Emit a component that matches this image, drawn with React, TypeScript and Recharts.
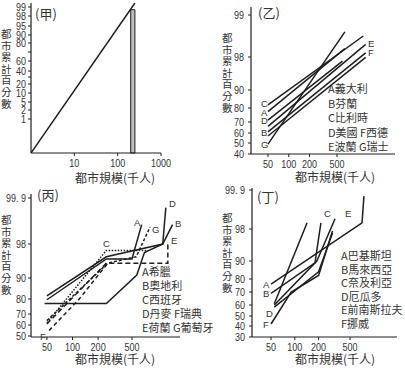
import { LineChart, Line, XAxis, YAxis, ReferenceArea } from "recharts";

const INK = "#1e1e1e";
const TEXT = "#333";
const NUM_FONT = "'Liberation Sans', Arial, sans-serif";
const CJK_FONT = "'Noto Sans CJK TC', 'Noto Sans CJK SC', sans-serif";

const Y_TITLE = "都市累計百分數";
const X_TITLE = "都市規模(千人)";
const SIZE_TICKS = [50, 100, 200, 500];

// 甲 — probability paper: percent -> grid units above the x axis
const JIA_PCT = [0, 1, 2, 5, 10, 20, 30, 40, 60, 70, 80, 90, 95, 98, 99, 99.9];
const JIA_GRID = [0, 34, 43, 51, 60, 69, 76, 82, 92, 101, 110, 118, 127, 137, 146, 150];
const JIA_Y_TICKS = [1, 2, 5, 10, 20, 30, 40, 60, 70, 80, 90, 95, 98, 99];
const JIA_HIDDEN = [30, 70];
const JIA_X_TICKS = [10, 100, 1000];
const JIA_SIZE = [1, 250];
const JIA_CUM = [0, 99.9];
const JIA_BAR = { from: 200, to: 250, pct: 98.7 };

// 乙
const YI_PCT = [40, 50, 60, 70, 80, 90, 98, 99];
const YI_GRID = [0, 11, 21, 32, 46, 64, 97, 139];
const YI_Y_TICKS = [40, 50, 60, 70, 80, 90, 98, 99];
const YI_A = [[50, 77.4], [650, 98.2]];
const YI_B = [[50, 61], [1300, 98.1]];
const YI_C = [[50, 81.7], [1200, 98.5]];
const YI_D = [[50, 71.4], [600, 97]];
const YI_E = [[50, 66], [1300, 98.3]];
const YI_F = [[50, 57], [1300, 97.9]];
const YI_G = [[50, 49], [650, 98.6]];
const YI_LEGEND = ["A義大利", "B芬蘭", "C比利時", "D美國 F西德", "E波蘭 G瑞士"];

// 丙
const BING_PCT = [50, 60, 70, 80, 90, 98, 99.9];
const BING_GRID = [1, 12, 23, 38, 59, 93, 139];
const BING_Y_TICKS = [50, 60, 70, 80, 90, 98, 99.9];
const BING_A = [[50, 79.5], [250, 94.5], [500, 94.5], [650, 98.8]];
const BING_B = [[50, 81.5], [250, 95], [1150, 98], [1500, 98.8]];
const BING_C = [[50, 62], [250, 96.5], [760, 96.5]];
const BING_D = [[47, 77], [250, 77], [570, 90.7], [700, 96], [1150, 98], [1250, 99.5]];
const BING_E = [[50, 61], [250, 93.5], [1320, 93.5], [1320, 98.1]];
const BING_F = [[53, 55], [120, 80], [260, 93.5]];
const BING_G = [[50, 64], [260, 93.5], [560, 95], [816, 98.7]];
const BING_LEGEND = ["A希臘", "B奧地利", "C西班牙", "D丹麥 F瑞典", "E荷蘭 G葡萄牙"];

// 丁
const DING_PCT = [30, 40, 50, 60, 70, 80, 90, 98, 99.9];
const DING_GRID = [0, 11, 21, 32, 45, 58, 76, 108, 147];
const DING_Y_TICKS = [30, 40, 50, 60, 70, 80, 90, 98, 99.9];
const DING_A = [[50, 76], [710, 98.3], [750, 99.6]];
const DING_B = [[50, 69], [180, 89], [214, 98.3]];
const DING_C = [[55, 61], [143, 98.3]];
const DING_D = [[55, 58], [200, 84], [300, 97]];
const DING_E = [[55, 60], [190, 90], [323, 98.5]];
const DING_F = [[50, 42], [90, 70], [200, 82], [300, 97.5]];
const DING_LEGEND = ["A巴基斯坦", "B馬來西亞", "C奈及利亞", "D厄瓜多", "E前南斯拉夫", "F挪威"];

function toGrid(pct: number, pcts: number[], grid: number[]) {
  for (let i = 1; i < pcts.length; i++) {
    if (pct <= pcts[i]) {
      const t = (pct - pcts[i - 1]) / (pcts[i] - pcts[i - 1]);
      return grid[i - 1] + t * (grid[i] - grid[i - 1]);
    }
  }
  const n = pcts.length - 1;
  const t = (pct - pcts[n - 1]) / (pcts[n] - pcts[n - 1]);
  return grid[n - 1] + t * (grid[n] - grid[n - 1]);
}

type Series = { points: number[][]; dash?: string };

type PanelProps = {
  left: number;
  top: number;
  width: number;
  height: number;
  margin: { top: number; right: number; left: number; bottom: number };
  yAxisWidth: number;
  xAxisHeight: number;
  yTickGap: number;
  xDomain: [number, number];
  xTicks: number[];
  pcts: number[];
  grid: number[];
  gridTop: number;
  yTicks: number[];
  hidden?: number[];
  series: Series[];
  bar?: { from: number; to: number; pct: number };
};

// narrow numerals like the scanned figure
function NarrowTick(props: any) {
  const { x, y, payload, textAnchor, formatter, dy = 0 } = props;
  const label = formatter ? formatter(payload.value) : String(payload.value);
  return (
    <g transform={`translate(${x},${y})`}>
      <text
        transform="scale(0.86,1)"
        textAnchor={textAnchor}
        dy={dy}
        fontSize={10.5}
        fill={TEXT}
        fontFamily={NUM_FONT}
      >
        {label}
      </text>
    </g>
  );
}

function ProbPanel(p: PanelProps) {
  const g = (v: number) => toGrid(v, p.pcts, p.grid);
  const tickPos = p.yTicks.map(g);
  const tickLabel = (v: number) => {
    const i = tickPos.findIndex((t) => Math.abs(t - v) < 0.01);
    if (i < 0) return "";
    const pct = p.yTicks[i];
    if (p.hidden && p.hidden.includes(pct)) return "";
    return pct === 99.9 ? "99. 9" : String(pct);
  };

  return (
    <div style={{ position: "absolute", left: p.left, top: p.top }}>
      <LineChart width={p.width} height={p.height} margin={p.margin}>
        <XAxis
          dataKey="x"
          type="number"
          scale="log"
          domain={p.xDomain}
          allowDataOverflow
          ticks={p.xTicks}
          interval={0}
          height={p.xAxisHeight}
          tickSize={3}
          tickMargin={2}
          axisLine={{ stroke: INK, strokeWidth: 1.2 }}
          tickLine={{ stroke: INK }}
          tick={<NarrowTick dy={9} />}
        />
        <YAxis
          dataKey="y"
          type="number"
          domain={[0, p.gridTop]}
          allowDataOverflow
          ticks={tickPos}
          interval={0}
          width={p.yAxisWidth}
          tickSize={3}
          tickMargin={p.yTickGap}
          axisLine={{ stroke: INK, strokeWidth: 1.2 }}
          tickLine={{ stroke: INK }}
          tick={<NarrowTick dy={3.5} formatter={tickLabel} />}
        />
        {p.bar && (
          <ReferenceArea
            x1={p.bar.from}
            x2={p.bar.to}
            y1={0}
            y2={g(p.bar.pct)}
            fill="#bdbdbd"
            fillOpacity={1}
            stroke={INK}
            strokeWidth={1}
            ifOverflow="visible"
          />
        )}
        {p.series.map((s, i) => (
          <Line
            key={i}
            data={s.points.map(([x, y]) => ({ x, y: g(y) }))}
            dataKey="y"
            type="linear"
            stroke={INK}
            strokeWidth={1.5}
            strokeDasharray={s.dash}
            dot={false}
            activeDot={false}
            isAnimationActive={false}
          />
        ))}
      </LineChart>
    </div>
  );
}

function Txt({ x, y, children, size = 11 }: { x: number; y: number; children: any; size?: number }) {
  return (
    <div
      style={{
        position: "absolute",
        left: x,
        top: y,
        fontSize: size,
        lineHeight: `${size}px`,
        whiteSpace: "pre",
        color: TEXT,
        fontFamily: CJK_FONT,
      }}
    >
      {children}
    </div>
  );
}

function Letter({ x, y, children }: { x: number; y: number; children: any }) {
  return (
    <div
      style={{
        position: "absolute",
        left: x,
        top: y,
        fontSize: 9.5,
        lineHeight: "8px",
        color: TEXT,
        fontFamily: NUM_FONT,
      }}
    >
      {children}
    </div>
  );
}

function VTitle({ x, y }: { x: number; y: number }) {
  return (
    <div style={{ position: "absolute", left: x, top: y, width: 11, color: TEXT, fontFamily: CJK_FONT }}>
      {Y_TITLE.split("").map((c, i) => (
        <div key={i} style={{ fontSize: 10.5, height: 11.6, lineHeight: "11.6px" }}>
          {c}
        </div>
      ))}
    </div>
  );
}

function Legend({ x, y, lines, step }: { x: number; y: number; lines: string[]; step: number }) {
  return (
    <>
      {lines.map((l, i) => (
        <Txt key={i} x={x} y={y + i * step} size={11}>
          {l}
        </Txt>
      ))}
    </>
  );
}

export default function App() {
  return (
    <div
      style={{
        position: "absolute",
        left: 0,
        top: 0,
        width: 405,
        height: 368,
        background: "#fff",
        overflow: "hidden",
      }}
    >
      <ProbPanel
        left={0}
        top={0}
        width={200}
        height={185}
        margin={{ top: 3, right: 39, left: 0, bottom: 0 }}
        yAxisWidth={31}
        xAxisHeight={32}
        yTickGap={2}
        xDomain={[1, 1000]}
        xTicks={JIA_X_TICKS}
        pcts={JIA_PCT}
        grid={JIA_GRID}
        gridTop={150}
        yTicks={JIA_Y_TICKS}
        hidden={JIA_HIDDEN}
        series={[{ points: JIA_SIZE.map((s, i) => [s, JIA_CUM[i]]) }]}
        bar={JIA_BAR}
      />
      <ProbPanel
        left={200}
        top={0}
        width={205}
        height={185}
        margin={{ top: 7, right: 10, left: 0, bottom: 0 }}
        yAxisWidth={51}
        xAxisHeight={31}
        yTickGap={4}
        xDomain={[28.4, 3460]}
        xTicks={SIZE_TICKS}
        pcts={YI_PCT}
        grid={YI_GRID}
        gridTop={147}
        yTicks={YI_Y_TICKS}
        series={[YI_A, YI_B, YI_C, YI_D, YI_E, YI_F, YI_G].map((points) => ({ points }))}
      />
      <ProbPanel
        left={0}
        top={180}
        width={200}
        height={188}
        margin={{ top: 14, right: 20, left: 0, bottom: 0 }}
        yAxisWidth={31}
        xAxisHeight={31}
        yTickGap={2}
        xDomain={[32.5, 1835]}
        xTicks={SIZE_TICKS}
        pcts={BING_PCT}
        grid={BING_GRID}
        gridTop={143}
        yTicks={BING_Y_TICKS}
        series={[
          { points: BING_A },
          { points: BING_B },
          { points: BING_C, dash: "1.5 1.5" },
          { points: BING_D },
          { points: BING_E, dash: "5 3" },
          { points: BING_F, dash: "4 3" },
          { points: BING_G, dash: "3 2" },
        ]}
      />
      <ProbPanel
        left={200}
        top={180}
        width={205}
        height={188}
        margin={{ top: 8, right: 8, left: 0, bottom: 0 }}
        yAxisWidth={52}
        xAxisHeight={31}
        yTickGap={4}
        xDomain={[28.7, 1967]}
        xTicks={SIZE_TICKS}
        pcts={DING_PCT}
        grid={DING_GRID}
        gridTop={149}
        yTicks={DING_Y_TICKS}
        series={[DING_A, DING_B, DING_C, DING_D, DING_E, DING_F].map((points) => ({ points }))}
      />

      <Txt x={35} y={7} size={13}>(甲)</Txt>
      <Txt x={258} y={6} size={13}>(乙)</Txt>
      <Txt x={37} y={188} size={13}>(丙)</Txt>
      <Txt x={257} y={190} size={13}>(丁)</Txt>

      <VTitle x={1} y={28} />
      <VTitle x={222} y={32} />
      <VTitle x={1} y={214} />
      <VTitle x={222} y={212} />

      <Txt x={75} y={172} size={12}>{X_TITLE}</Txt>
      <Txt x={295} y={171} size={12}>{X_TITLE}</Txt>
      <Txt x={75} y={353} size={12}>{X_TITLE}</Txt>
      <Txt x={295} y={353} size={12}>{X_TITLE}</Txt>

      <Letter x={261} y={100}>C</Letter>
      <Letter x={261} y={109}>A</Letter>
      <Letter x={261} y={117}>D</Letter>
      <Letter x={261} y={129}>B</Letter>
      <Letter x={261} y={141}>G</Letter>
      <Letter x={368} y={40}>E</Letter>
      <Letter x={368} y={49}>F</Letter>
      <Legend x={328} y={83} lines={YI_LEGEND} step={14.5} />

      <Letter x={40} y={333}>F</Letter>
      <Letter x={103} y={240}>C</Letter>
      <Letter x={134} y={219}>A</Letter>
      <Letter x={152} y={226}>G</Letter>
      <Letter x={169} y={200}>D</Letter>
      <Letter x={175} y={220}>B</Letter>
      <Letter x={171} y={237}>E</Letter>
      <Legend x={142} y={266} lines={BING_LEGEND} step={14} />

      <Letter x={263} y={281}>A</Letter>
      <Letter x={263} y={290}>B</Letter>
      <Letter x={266} y={310}>D</Letter>
      <Letter x={263} y={321}>F</Letter>
      <Letter x={324} y={210}>C</Letter>
      <Letter x={345} y={210}>E</Letter>
      <Legend x={341} y={250} lines={DING_LEGEND} step={13.5} />
    </div>
  );
}
